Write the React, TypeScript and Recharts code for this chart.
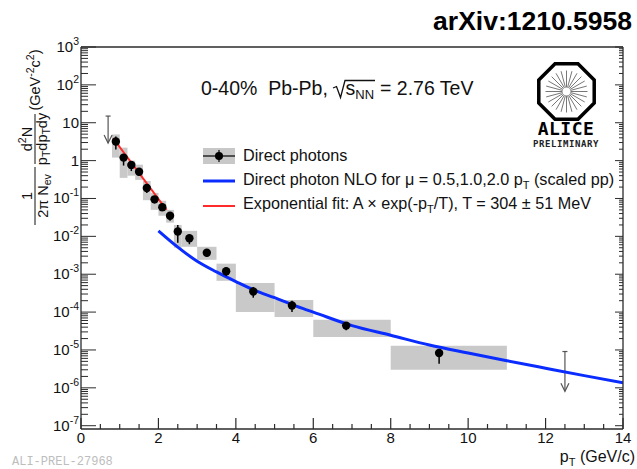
import React from 'react';
import {
  ComposedChart,
  XAxis,
  YAxis,
  Scatter,
  Line,
  ErrorBar,
  ReferenceArea,
  ReferenceLine,
} from 'recharts';

// Direct photon invariant yield, 0-40% Pb-Pb at 2.76 TeV
const ptCentres = [0.9, 1.1, 1.3, 1.5, 1.7, 1.9, 2.1, 2.3, 2.5, 2.8, 3.25, 3.75, 4.45, 5.45, 6.85, 9.25];
const yields = [3.2, 1.2, 0.77, 0.51, 0.19, 0.095, 0.059, 0.035, 0.0134, 0.0089, 0.0037, 0.0012, 3.5e-4, 1.5e-4, 4.4e-5, 8.3e-6];
const statLow = [1.97, 0.74, 0.53, 0.4, 0.14, 0.074, 0.046, 0.026, 0.0068, 0.0062, 0.0029, 8.9e-4, 2.4e-4, 1.0e-4, 3.3e-5, 4.3e-6];
const statHigh = [4.3, 1.4, 0.92, 0.61, 0.23, 0.114, 0.071, 0.042, 0.02, 0.0107, 0.0042, 0.0015, 4.6e-4, 2.0e-4, 5.0e-5, 8.3e-6];
const binLow = [0.8, 1.0, 1.2, 1.4, 1.6, 1.8, 2.0, 2.2, 2.4, 2.6, 3.0, 3.5, 4.0, 5.0, 6.0, 8.0];
const binHigh = [1.0, 1.2, 1.4, 1.6, 1.8, 2.0, 2.2, 2.4, 2.6, 3.0, 3.5, 4.0, 5.0, 6.0, 8.0, 11.0];
const sysLow = [1.2, 0.35, 0.4, 0.31, 0.09, 0.05, 0.035, 0.023, 0.005, 0.0053, 0.0024, 6.7e-4, 1.0e-4, 7.4e-5, 2.2e-5, 3.0e-6];
const sysHigh = [4.9, 2.2, 1.0, 0.78, 0.29, 0.14, 0.087, 0.05, 0.02, 0.014, 0.0053, 0.0019, 5.9e-4, 2.1e-4, 6.3e-5, 1.3e-5];

// Upper limits (shaft from top value down to arrow tip)
const limitPt = [0.7, 12.5];
const limitTop = [15, 9.1e-6];
const limitTip = [2.9, 8.1e-7];

// NLO pQCD direct photons (scaled pp)
const nloPt = [2.0, 2.5, 3.0, 3.5, 4.0, 4.5, 5.0, 5.5, 6.0, 7.0, 8.0, 9.0, 10.0, 11.0, 12.0, 13.0, 14.0];
const nloYield = [0.014, 0.0052, 0.0022, 0.00115, 6.4e-4, 3.7e-4, 2.4e-4, 1.5e-4, 1.0e-4, 4.4e-5, 2.45e-5, 1.35e-5, 8.3e-6, 5.2e-6, 3.3e-6, 2.1e-6, 1.35e-6];

// Exponential fit, straight in log scale
const fitPt = [0.83, 2.21];
const fitYield = [3.9, 0.05];

const xTickLabels = ['0', '2', '4', '6', '8', '10', '12', '14'];
const decades = [-7, -6, -5, -4, -3, -2, -1, 0, 1, 2, 3];

const FONT = '"Liberation Sans", Arial, Helvetica, sans-serif';
const FRAME = '#2b2b2b';
const W = 637;
const H = 469;

const X_DOMAIN: [number, number] = [0, 14];
const Y_DOMAIN: [number, number] = [Math.pow(10, -7.087), 1000];

const xTicks: number[] = [];
for (let i = 0; i <= 28; i++) xTicks.push(i * 0.5);
const yTicks: number[] = [];
decades.forEach((d) => {
  const base = Math.pow(10, d);
  yTicks.push(base);
  if (d < 3) for (let m = 2; m <= 9; m++) yTicks.push(m * base);
});

const points = ptCentres.map((x, i) => ({
  x,
  y: yields[i],
  err: [yields[i] - statLow[i], statHigh[i] - yields[i]],
}));
const nloData = nloPt.map((x, i) => ({ x, y: nloYield[i] }));
const fitData = fitPt.map((x, i) => ({ x, y: fitYield[i] }));
const limitTopData = limitPt.map((x, i) => ({ x, y: limitTop[i] }));
const limitTipData = limitPt.map((x, i) => ({ x, y: limitTip[i] }));

const isMajorX = (v: number) => Math.abs(v / 2 - Math.round(v / 2)) < 1e-6;
const isMajorY = (v: number) => {
  const l = Math.log10(v);
  return Math.abs(l - Math.round(l)) < 1e-6;
};

const BottomTick = (props: any) => {
  const { x, y, payload } = props;
  const v = payload.value as number;
  const major = isMajorX(v);
  return (
    <g>
      <line x1={x} x2={x} y1={y} y2={y - (major ? 11 : 5)} stroke={FRAME} strokeWidth={1.2} />
      {major && (
        <text x={x} y={y + 14} textAnchor="middle" fontSize={15} fontFamily={FONT} fill="#111">
          {xTickLabels[Math.round(v / 2)]}
        </text>
      )}
    </g>
  );
};

const TopTick = (props: any) => {
  const { x, y, payload } = props;
  const major = isMajorX(payload.value);
  return <line x1={x} x2={x} y1={y} y2={y + (major ? 9 : 4)} stroke={FRAME} strokeWidth={1.2} />;
};

const LeftTick = (props: any) => {
  const { x, y, payload } = props;
  const v = payload.value as number;
  const major = isMajorY(v);
  const e = Math.round(Math.log10(v));
  return (
    <g>
      <line x1={x} x2={x + (major ? 15 : 7)} y1={y} y2={y} stroke={FRAME} strokeWidth={1} />
      {major && (
        <text x={x - 2} y={y + 5} textAnchor="end" fontSize={15} fontFamily={FONT} fill="#111">
          {e === 0 ? '1' : '10'}
          {e !== 0 && e !== 1 && (
            <tspan dy={-7} fontSize={10.5}>
              {String(e)}
            </tspan>
          )}
        </text>
      )}
    </g>
  );
};

const RightTick = (props: any) => {
  const { x, y, payload } = props;
  const major = isMajorY(payload.value);
  return <line x1={x} x2={x - (major ? 8 : 4)} y1={y} y2={y} stroke={FRAME} strokeWidth={1} />;
};

const Dot = (props: any) => {
  const { cx, cy } = props;
  return <circle cx={cx} cy={cy} r={4.2} fill="#000" />;
};

const LimitCap = (props: any) => {
  const { cx, cy } = props;
  return <line x1={cx - 2.5} x2={cx + 2.5} y1={cy} y2={cy} stroke="#555" strokeWidth={1.2} />;
};

const LimitHead = (props: any) => {
  const { cx, cy } = props;
  return (
    <polyline
      points={`${cx - 4},${cy - 8} ${cx},${cy} ${cx + 4},${cy - 8}`}
      fill="none"
      stroke="#555"
      strokeWidth={1.2}
    />
  );
};

const AliceLogo = () => {
  const cx = 566.5;
  const cy = 91.5;
  const R = 30;
  const oct = Array.from({ length: 8 }, (_, k) => {
    const a = ((22.5 + 45 * k) * Math.PI) / 180;
    return `${cx + R * Math.cos(a)},${cy + R * Math.sin(a)}`;
  }).join(' ');
  const spokes = Array.from({ length: 24 }, (_, k) => {
    const a = (k * 15 * Math.PI) / 180;
    return (
      <line
        key={k}
        x1={cx + 4 * Math.cos(a)}
        y1={cy + 4 * Math.sin(a)}
        x2={cx + 21 * Math.cos(a)}
        y2={cy + 21 * Math.sin(a)}
        stroke="#777"
        strokeWidth={1}
      />
    );
  });
  return (
    <g>
      <polygon points={oct} fill="none" stroke="#000" strokeWidth={3.5} />
      {spokes}
      <text x={566} y={135} textAnchor="middle" fontSize={18} fontWeight="bold" fontFamily='"DejaVu Sans Mono", monospace' fill="#000" letterSpacing={0.5}>
        ALICE
      </text>
      <text x={566} y={147} textAnchor="middle" fontSize={9} fontWeight="bold" fontFamily='"DejaVu Sans Mono", monospace' fill="#222" letterSpacing={0.6}>
        PRELIMINARY
      </text>
    </g>
  );
};

const LEG_FS = 16.2;

const Annotations = () => (
  <svg width={W} height={H} style={{ position: 'absolute', left: 0, top: 0, pointerEvents: 'none' }}>
    <text x={632} y={30} textAnchor="end" fontSize={26.5} fontWeight="bold" fontFamily={FONT} fill="#000">
      arXiv:1210.5958
    </text>

    {/* system header */}
    <text x={201} y={95} fontSize={19.5} fontFamily={FONT} fill="#111" style={{ whiteSpace: 'pre' }}>
      {'0-40%  Pb-Pb,'}
    </text>
    <polyline points="333,88 336.5,86.5 340.5,97.5 345,80.5 375,80.5" fill="none" stroke="#111" strokeWidth={1.3} />
    <text x={345.5} y={95} fontSize={19.5} fontFamily={FONT} fill="#111">
      s<tspan dy={4} fontSize={13}>NN</tspan>
    </text>
    <text x={380} y={95} fontSize={19.5} fontFamily={FONT} fill="#111">
      = 2.76 TeV
    </text>

    <AliceLogo />

    {/* legend */}
    <rect x={203} y={148} width={32} height={16} fill="#c8c8c8" />
    <line x1={203} x2={235} y1={156} y2={156} stroke="#000" strokeWidth={1.2} />
    <line x1={219} x2={219} y1={150} y2={162} stroke="#000" strokeWidth={1.2} />
    <circle cx={219} cy={156} r={4} fill="#000" />
    <text x={243} y={161} fontSize={LEG_FS} fontFamily={FONT} fill="#111">
      Direct photons
    </text>
    <line x1={203} x2={235} y1={181} y2={181} stroke="#0a2cff" strokeWidth={3} />
    <text x={243} y={185} fontSize={LEG_FS} fontFamily={FONT} fill="#111">
      Direct photon NLO for μ = 0.5,1.0,2.0 p<tspan dy={4} fontSize={11}>T</tspan>
      <tspan dy={-4}> (scaled pp)</tspan>
    </text>
    <line x1={203} x2={235} y1={206} y2={206} stroke="#ff2a2a" strokeWidth={2} />
    <text x={243} y={209} fontSize={LEG_FS} fontFamily={FONT} fill="#111">
      Exponential fit: A × exp(-p<tspan dy={4} fontSize={11}>T</tspan>
      <tspan dy={-4}>/T), T = 304 ± 51 MeV</tspan>
    </text>

    {/* y axis title */}
    <g transform="rotate(-90)" fontFamily={FONT} fill="#111" fontSize={14.5}>
      <text x={-196} y={32} textAnchor="middle">1</text>
      <line x1={-225} x2={-167} y1={35} y2={35} stroke="#111" strokeWidth={1} />
      <text x={-196} y={48} textAnchor="middle">
        2π N<tspan dy={3} fontSize={10.5}>ev</tspan>
      </text>
      <text x={-139} y={32} textAnchor="middle">
        d<tspan dy={-6} fontSize={10.5}>2</tspan>
        <tspan dy={6}>N</tspan>
      </text>
      <line x1={-164} x2={-114} y1={35} y2={35} stroke="#111" strokeWidth={1} />
      <text x={-139} y={47} textAnchor="middle">
        p<tspan dy={3} fontSize={10.5}>T</tspan>
        <tspan dy={-3}>dp</tspan>
        <tspan dy={3} fontSize={10.5}>T</tspan>
        <tspan dy={-3}>dy</tspan>
      </text>
      <text x={-80} y={40} textAnchor="middle">
        (GeV<tspan dy={-6} fontSize={10.5}>-2</tspan>
        <tspan dy={6}>c</tspan>
        <tspan dy={-6} fontSize={10.5}>2</tspan>
        <tspan dy={6}>)</tspan>
      </text>
    </g>

    {/* x axis title */}
    <text x={635} y={462} textAnchor="end" fontSize={16} fontFamily={FONT} fill="#111">
      p<tspan dy={4} fontSize={11}>T</tspan>
      <tspan dy={-4}> (GeV/c)</tspan>
    </text>

    <text x={12} y={465} fontSize={12} fontFamily='"Liberation Mono", monospace' fill="#bdbdbd">
      ALI-PREL-27968
    </text>
  </svg>
);

export default function App() {
  return (
    <div style={{ position: 'absolute', left: 0, top: 0, width: W, height: H, background: '#fff' }}>
      <ComposedChart width={W} height={H} margin={{ top: 0, right: 0, bottom: 0, left: 0 }}>
        <XAxis
          xAxisId="b"
          dataKey="x"
          type="number"
          domain={X_DOMAIN}
          allowDataOverflow
          ticks={xTicks}
          interval={0}
          tickSize={0}
          tickMargin={0}
          tick={<BottomTick />}
          tickLine={false}
          axisLine={{ stroke: FRAME, strokeWidth: 1.3 }}
          height={40}
        />
        <XAxis
          xAxisId="t"
          orientation="top"
          type="number"
          domain={X_DOMAIN}
          allowDataOverflow
          ticks={xTicks}
          interval={0}
          tickSize={0}
          tickMargin={0}
          tick={<TopTick />}
          tickLine={false}
          axisLine={{ stroke: FRAME, strokeWidth: 1.3 }}
          height={47}
        />
        <YAxis
          yAxisId="l"
          type="number"
          scale="log"
          domain={Y_DOMAIN}
          allowDataOverflow
          ticks={yTicks}
          interval={0}
          tickSize={0}
          tickMargin={0}
          tick={<LeftTick />}
          tickLine={false}
          axisLine={{ stroke: FRAME, strokeWidth: 1.3 }}
          width={81}
        />
        <YAxis
          yAxisId="r"
          orientation="right"
          type="number"
          scale="log"
          domain={Y_DOMAIN}
          allowDataOverflow
          ticks={yTicks}
          interval={0}
          tickSize={0}
          tickMargin={0}
          tick={<RightTick />}
          tickLine={false}
          axisLine={{ stroke: FRAME, strokeWidth: 1.3 }}
          width={14}
        />

        {points.map((p, i) => (
          <ReferenceArea
            key={`sys-${i}`}
            xAxisId="b"
            yAxisId="l"
            x1={binLow[i]}
            x2={binHigh[i]}
            y1={sysLow[i]}
            y2={sysHigh[i]}
            fill="#c9c9c9"
            fillOpacity={1}
            stroke="none"
            ifOverflow="visible"
          />
        ))}

        {limitPt.map((x, i) => (
          <ReferenceLine
            key={`lim-${i}`}
            xAxisId="b"
            yAxisId="l"
            segment={[
              { x, y: limitTop[i] },
              { x, y: limitTip[i] },
            ]}
            stroke="#555"
            strokeWidth={1.2}
          />
        ))}

        <Line
          xAxisId="b"
          yAxisId="l"
          data={nloData}
          dataKey="y"
          type="monotone"
          stroke="#0a2cff"
          strokeWidth={3}
          dot={false}
          isAnimationActive={false}
        />
        <Line
          xAxisId="b"
          yAxisId="l"
          data={fitData}
          dataKey="y"
          type="linear"
          stroke="#ff2a2a"
          strokeWidth={2}
          dot={false}
          isAnimationActive={false}
        />
        <Scatter xAxisId="b" yAxisId="l" data={limitTopData} dataKey="y" shape={<LimitCap />} isAnimationActive={false} />
        <Scatter xAxisId="b" yAxisId="l" data={limitTipData} dataKey="y" shape={<LimitHead />} isAnimationActive={false} />
        <Scatter xAxisId="b" yAxisId="l" data={points} dataKey="y" shape={<Dot />} isAnimationActive={false}>
          <ErrorBar dataKey="err" direction="y" width={0} stroke="#000" strokeWidth={1.5} />
        </Scatter>
      </ComposedChart>
      <Annotations />
    </div>
  );
}
